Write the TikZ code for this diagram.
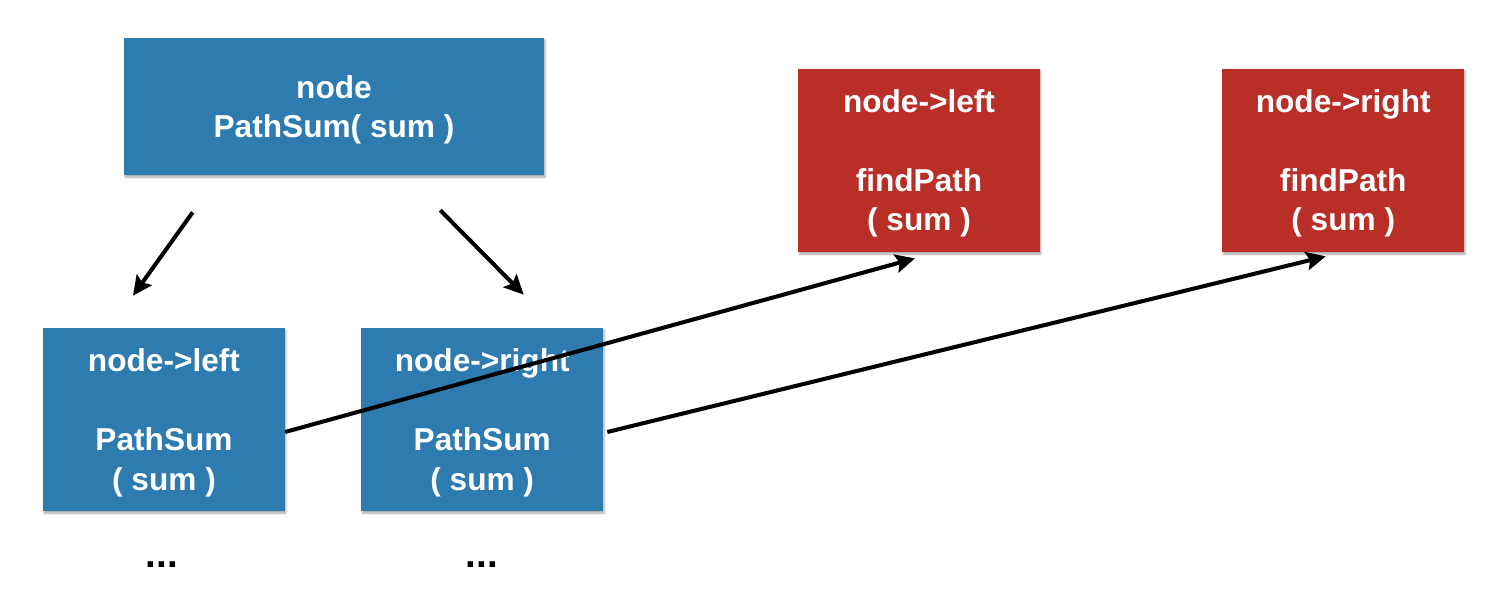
\documentclass[tikz,border=0pt]{standalone}
\usepackage{fontspec}
\setmainfont{Liberation Sans}
\usetikzlibrary{positioning,arrows.meta,calc,shadows.blur}
\definecolor{callblue}{HTML}{2E7BB0}
\definecolor{findred}{HTML}{B92F28}
\tikzset{
  base/.style={rectangle,align=center,text=white,inner sep=0pt,
    font=\fontsize{18}{22.4}\selectfont\bfseries,text depth=-0.8pt,
    blur shadow={shadow xshift=0.6pt,shadow yshift=-1.2pt,shadow blur radius=1.2pt,shadow opacity=35}},
  call/.style={base,fill=callblue,minimum width=4.83cm,minimum height=3.66cm},
  root/.style={base,fill=callblue,minimum width=8.4cm,minimum height=2.74cm},
  find/.style={base,fill=findred,minimum width=4.83cm,minimum height=3.66cm},
  more/.style={font=\fontsize{22}{26}\selectfont\bfseries,anchor=base},
  ar/.style={-{Stealth[length=3.9mm,width=3.7mm,inset=0.7mm]},line width=2.3pt,draw=black},
}
\begin{document}
\begin{tikzpicture}
\useasboundingbox (0,0) rectangle (30.14,11.98);
% ---- recursive calls ----
\node[root] (sumnode) at (6.68,9.85){node\\PathSum( sum )};
\node[call] (sumleft) at (3.28,3.59){node->left\\[22.4pt]PathSum\\( sum )};
\node[call,right=1.52cm of sumleft] (sumright){node->right\\[22.4pt]PathSum\\( sum )};
\node[more] (dotsleft) at (3.24,0.64){...};
\node[more] (dotsright) at (9.64,0.64){...};
\draw[ar]([shift={(1.38,-0.74)}]sumnode.south west)--([shift={(-0.62,0.64)}]sumleft.north);
\draw[ar]([shift={(-2.08,-0.70)}]sumnode.south east)--([shift={(0.83,0.66)}]sumright.north);

% ---- findPath calls ----
\node[find] (findleft) at (18.38,8.77){node->left\\[22.4pt]findPath\\( sum )};
\node[find,right=3.64cm of findleft] (findright){node->right\\[22.4pt]findPath\\( sum )};
\draw[ar]([yshift=-0.25cm]sumleft.east)--([shift={(-0.08,-0.12)}]findleft.south);
\draw[ar]([shift={(0.08,-0.25)}]sumright.east)--([shift={(-0.35,-0.08)}]findright.south);
\end{tikzpicture}
\end{document}
